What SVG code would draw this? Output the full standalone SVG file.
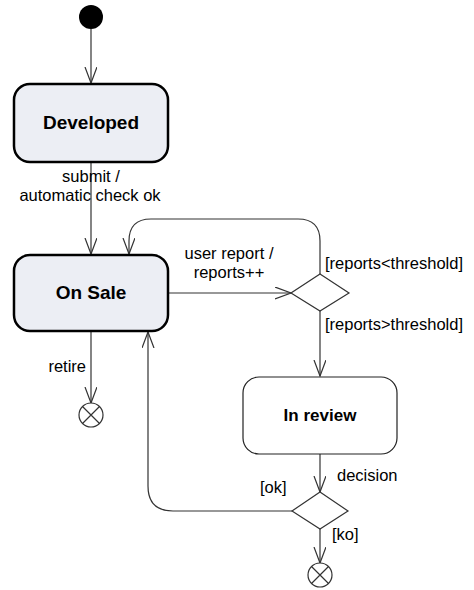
<svg xmlns="http://www.w3.org/2000/svg" width="474" height="590" viewBox="0 0 474 590">
<style>
text{font-family:"Liberation Sans",Arial,sans-serif;fill:#000}
.lbl{font-size:16.5px}
.st{font-size:19px;font-weight:bold}
.line{fill:none;stroke:#333;stroke-width:1.2}
.state{fill:#eceef4;stroke:#000;stroke-width:2.5}
</style>
<defs>
<marker id="arr" markerWidth="18" markerHeight="14" refX="16" refY="6" orient="auto" markerUnits="userSpaceOnUse">
<path d="M0,0 L16,6 L0,12" fill="none" stroke="#333" stroke-width="1.2"/>
</marker>
</defs>
<g id="connectors">
<line class="line" x1="91" y1="29" x2="91" y2="83" marker-end="url(#arr)"/>
<line class="line" x1="91" y1="162" x2="91" y2="254" marker-end="url(#arr)"/>
<line class="line" x1="168" y1="293" x2="291" y2="293" marker-end="url(#arr)"/>
<path class="line" d="M320,274 V241 Q320,219 298,219 H151 Q129,219 129,241 V254" marker-end="url(#arr)"/>
<line class="line" x1="320" y1="311" x2="320" y2="376" marker-end="url(#arr)"/>
<line class="line" x1="91" y1="331" x2="91" y2="403" marker-end="url(#arr)"/>
<line class="line" x1="320" y1="454" x2="320" y2="492" marker-end="url(#arr)"/>
<path class="line" d="M292,511 H173 Q148,511 148,486 V332" marker-end="url(#arr)"/>
<line class="line" x1="320" y1="529" x2="320" y2="563" marker-end="url(#arr)"/>
<text class="lbl" x="91" y="182" text-anchor="middle">submit /</text>
<text class="lbl" x="90" y="201" text-anchor="middle">automatic check ok</text>
<text class="lbl" x="229" y="259" text-anchor="middle">user report /</text>
<text class="lbl" x="229" y="278" text-anchor="middle">reports++</text>
<text class="lbl" x="325" y="269">[reports&lt;threshold]</text>
<text class="lbl" x="325" y="330">[reports&gt;threshold]</text>
<text class="lbl" x="86" y="372" text-anchor="end">retire</text>
<text class="lbl" x="337" y="481">decision</text>
<text class="lbl" x="260" y="493">[ok]</text>
<text class="lbl" x="332" y="540">[ko]</text>
</g>
<g id="initial"><circle cx="91" cy="17" r="12" fill="#000"/></g>
<g id="developed">
<rect class="state" x="14" y="84" width="154" height="78" rx="16"/>
<text class="st" x="91" y="129" text-anchor="middle">Developed</text>
</g>
<g id="onsale">
<rect class="state" x="14" y="255" width="154" height="76" rx="16"/>
<text class="st" x="91" y="299" text-anchor="middle">On Sale</text>
</g>
<g id="decision1"><polygon points="320,274 349,293 320,311 291,293" fill="#fff" stroke="#333" stroke-width="1.2"/></g>
<g id="inreview">
<rect x="243" y="377" width="154" height="77" rx="16" fill="#fff" stroke="#222" stroke-width="1.2"/>
<text x="320" y="421" text-anchor="middle" style="font-size:17px;font-weight:bold">In review</text>
</g>
<g id="decision2"><polygon points="320,492 348,511 320,529 292,511" fill="#fff" stroke="#333" stroke-width="1.2"/></g>
<g id="final1">
<circle cx="91" cy="415" r="12" fill="#fff" stroke="#333" stroke-width="1.2"/>
<path d="M82.5,406.5 L99.5,423.5 M99.5,406.5 L82.5,423.5" stroke="#333" stroke-width="1.2"/>
</g>
<g id="final2">
<circle cx="320" cy="575" r="12" fill="#fff" stroke="#333" stroke-width="1.2"/>
<path d="M311.5,566.5 L328.5,583.5 M328.5,566.5 L311.5,583.5" stroke="#333" stroke-width="1.2"/>
</g>
</svg>
